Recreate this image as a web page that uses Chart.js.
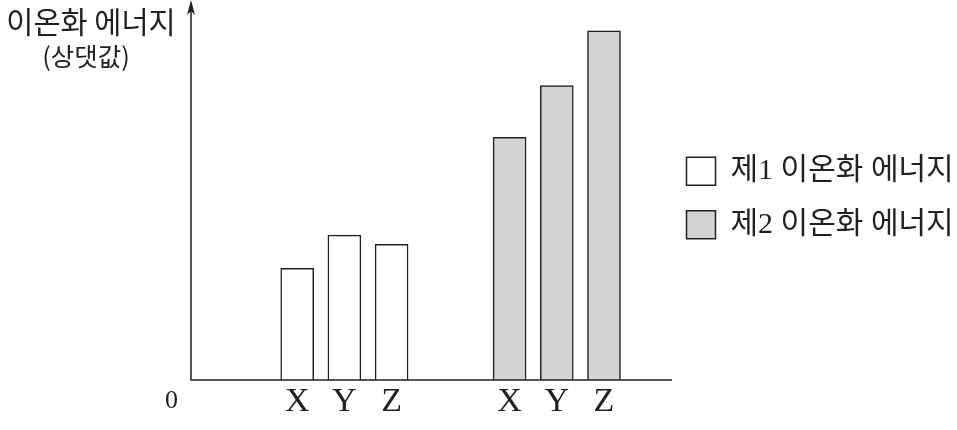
<!DOCTYPE html>
<html>
<head>
<meta charset="utf-8">
<script src="https://cdn.jsdelivr.net/npm/chart.js@4"></script>
<style>
html, body { margin: 0; padding: 0; background: #fff; }
#wrap { width: 957px; height: 430px; position: relative; }
</style>
</head>
<body>
<div id="wrap"><canvas id="ieChart"></canvas></div>
<script>
var categories = ['X', 'Y', 'Z'];
var firstIE = [30.7, 39.8, 37.3];
var secondIE = [66.7, 80.9, 95.9];
var seriesNames = ['제1 이온화 에너지', '제2 이온화 에너지'];
var yTickLabels = ['0'];
var axisTitle = ['이온화 에너지', '(상댓값)'];

var ink = '#231f20';
var mixFont = '"Liberation Serif", "Noto Sans CJK KR"';

// the category axis has 20 slots; each group uses every other slot
var slotCount = 20, firstStart = 4, secondStart = 13;
var slotLabels = [], firstData = [], secondData = [];
for (var i = 0; i < slotCount; i++) {
    slotLabels.push('');
    firstData.push(null);
    secondData.push(null);
}
categories.forEach(function (c, k) {
    slotLabels[firstStart + 2 * k] = c;
    firstData[firstStart + 2 * k] = firstIE[k];
    slotLabels[secondStart + 2 * k] = c;
    secondData[secondStart + 2 * k] = secondIE[k];
});

// axis lines with the arrow, and the axis title in the corner
var axesPlugin = {
    id: 'axes',
    afterDatasetsDraw: function (chart) {
        var ctx = chart.ctx, a = chart.chartArea;
        var x0 = a.left, y0 = a.bottom;
        ctx.save();
        ctx.strokeStyle = ink;
        ctx.lineWidth = 1.5;
        ctx.beginPath();
        ctx.moveTo(x0, y0);
        ctx.lineTo(a.right + 9, y0);
        ctx.moveTo(x0, y0 + 0.75);
        ctx.lineTo(x0, 8);
        ctx.stroke();
        ctx.fillStyle = ink;
        ctx.beginPath();
        ctx.moveTo(x0, 0);
        ctx.lineTo(x0 + 4, 15);
        ctx.lineTo(x0, 11);
        ctx.lineTo(x0 - 4, 15);
        ctx.closePath();
        ctx.fill();

        ctx.textAlign = 'center';
        ctx.textBaseline = 'middle';
        ctx.font = '29.5px "Noto Sans CJK KR"';
        ctx.fillText(axisTitle[0], 91, 22);
        ctx.font = '25.5px "Noto Sans CJK KR"';
        ctx.fillText(axisTitle[1], 86, 56);
        ctx.restore();
    }
};

var ctxBar = document.getElementById('ieChart').getContext('2d');
var ieChart = new Chart(ctxBar, {
    type: 'bar',
    data: {
        labels: slotLabels,
        datasets: [{
            label: seriesNames[0],
            data: firstData,
            backgroundColor: '#ffffff',
            borderColor: ink,
            borderWidth: 1.5,
            barThickness: 33,
            grouped: false,
        }, {
            label: seriesNames[1],
            data: secondData,
            backgroundColor: '#d3d3d3',
            borderColor: ink,
            borderWidth: 1.5,
            barThickness: 33,
            grouped: false,
        }]
    },
    options: {
        responsive: true,
        maintainAspectRatio: false,
        animation: false,
        layout: { padding: { top: 16, left: 0, right: 0, bottom: 0 } },
        plugins: {
            tooltip: { enabled: false },
            legend: {
                position: 'right',
                fullSize: false,
                maxWidth: 294,
                align: 'center',
                labels: {
                    boxWidth: 29,
                    boxHeight: 28,
                    padding: 23.5,
                    color: ink,
                    font: { family: mixFont, size: 30 },
                }
            }
        },
        scales: {
            x: {
                offset: true,
                grid: { display: false, drawTicks: false },
                border: { display: false },
                ticks: {
                    autoSkip: false,
                    maxRotation: 0,
                    padding: 2,
                    color: ink,
                    font: { family: mixFont, size: 34 },
                },
                afterFit: function (s) { s.height = 50; }
            },
            y: {
                min: 0,
                max: 100,
                grid: { display: false, drawTicks: false },
                border: { display: false },
                afterBuildTicks: function (s) { s.ticks = [{ value: 0 }]; },
                ticks: {
                    padding: 13,
                    labelOffset: 21,
                    color: ink,
                    font: { family: mixFont, size: 26 },
                    callback: function (v) { return v === 0 ? yTickLabels[0] : ''; }
                },
                afterFit: function (s) {
                    s.width = 191;
                    s.paddingTop = 0;
                    s.paddingBottom = 0;
                }
            }
        }
    },
    plugins: [axesPlugin]
});
</script>
</body>
</html>
